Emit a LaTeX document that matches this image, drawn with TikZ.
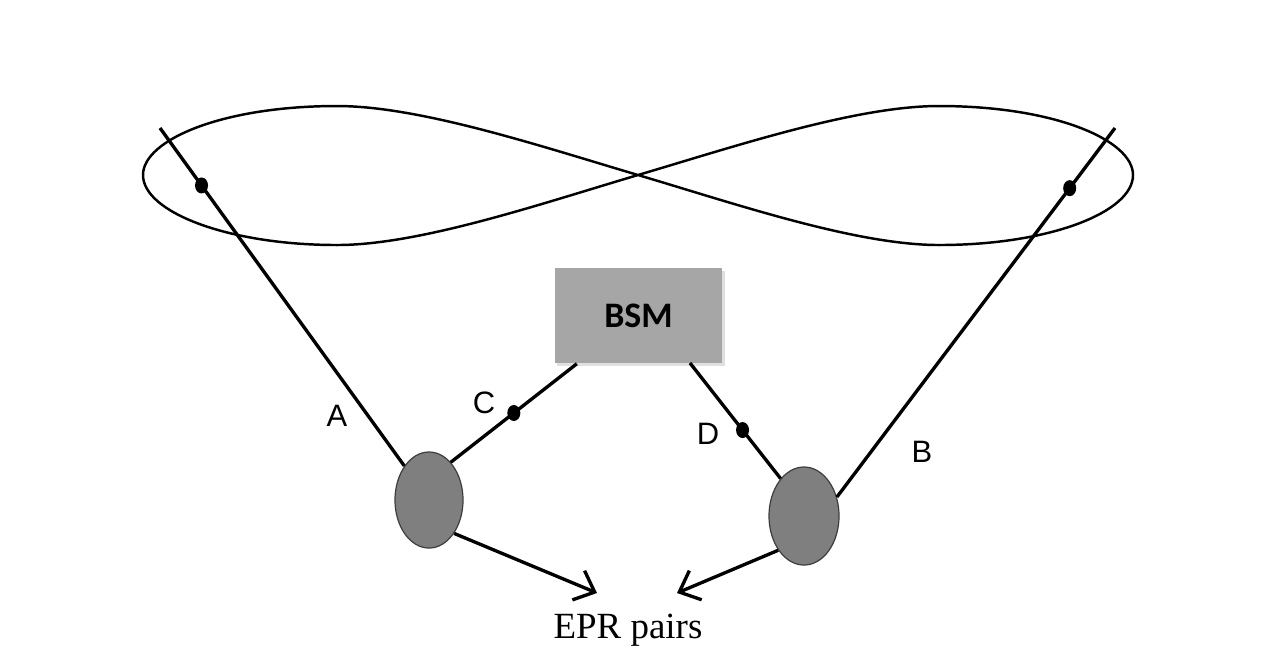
\documentclass[tikz,border=0pt]{standalone}
\usepackage{fontspec}
\setmainfont{Liberation Serif}
\newfontfamily\arialf{Liberation Sans}
\newfontfamily\calibrif{Carlito}
\usetikzlibrary{shapes.geometric,arrows.meta}
\definecolor{bodygray}{HTML}{7F7F7F}
\definecolor{boxgray}{HTML}{A6A6A6}
\definecolor{edgegray}{HTML}{3F3F3F}
\tikzset{
  wire/.style={line width=0.95pt, black},
  eightcurve/.style={line width=0.7pt, black},
  source/.style={ellipse, fill=bodygray, draw=edgegray, line width=0.35pt, inner sep=0pt},
  dotmark/.style={ellipse, fill=black, inner sep=0pt, minimum width=0.13cm, minimum height=0.16cm},
  lbl/.style={font=\arialf\fontsize{8.8}{10}\selectfont},
  arr/.style={wire, -{Straight Barb[length=5pt,width=9pt,line width=0.95pt]}},
}
\begin{document}
\begin{tikzpicture}[x=0.01cm,y=-0.01cm]
\useasboundingbox (0,0) rectangle (1276,656);
% figure eight
\draw[eightcurve] (638,175) .. controls (540,146) and (420,106) .. (337,106)
  .. controls (222,106) and (143,140) .. (143,175)
  .. controls (143,212) and (228,245) .. (337,245)
  .. controls (420,245) and (540,204) .. (638,175)
  .. controls (736,146) and (856,106) .. (939,106)
  .. controls (1054,106) and (1133,140) .. (1133,175)
  .. controls (1133,212) and (1050,245) .. (939,245)
  .. controls (856,245) and (736,204) .. (638,175) -- cycle;
% nodes
\node[source, minimum width=0.68cm, minimum height=0.96cm] (e1) at (429,500) {};
\node[source, minimum width=0.70cm, minimum height=0.98cm] (e2) at (804,516) {};
\node[fill=black!12, minimum width=1.67cm, minimum height=0.95cm, inner sep=0pt] (bsmshadow) at (641,318.5) {};
\node[fill=boxgray, minimum width=1.67cm, minimum height=0.95cm, inner sep=0pt,
      font=\calibrif\bfseries\fontsize{10.2}{12}\selectfont] (bsm) at (638.5,315.5) {BSM};
\coordinate (atop) at (160,128);
\coordinate (btop) at (1115,128);
\coordinate (dtop) at (690,363);
\coordinate (tipl) at (597,593);
\coordinate (tipr) at (677,593);
% wires
\draw[wire] (atop) -- node[dotmark, pos=0.17] (da) {} (e1);
\draw[wire] (btop) -- node[dotmark, pos=0.163] (db) {} (e2.30);
\draw[wire] (e1.60) -- node[dotmark, pos=0.5] (dc) {} (bsm);
\draw[wire] (e2.122) -- node[dotmark, pos=0.42] (dd) {} (dtop);
% arrows
\draw[arr] (e1.-53) -- (tipl);
\draw[arr] (e2.233) -- (tipr);
% labels
\node[lbl] (la) at (337,416) {A};
\node[lbl] (lb) at (922,452) {B};
\node[lbl] (lc) at (484,403) {C};
\node[lbl] (ld) at (708,434) {D};
\node[font=\fontsize{10.5}{12}\selectfont] (epr) at (628,630) {EPR pairs};
\end{tikzpicture}
\end{document}
